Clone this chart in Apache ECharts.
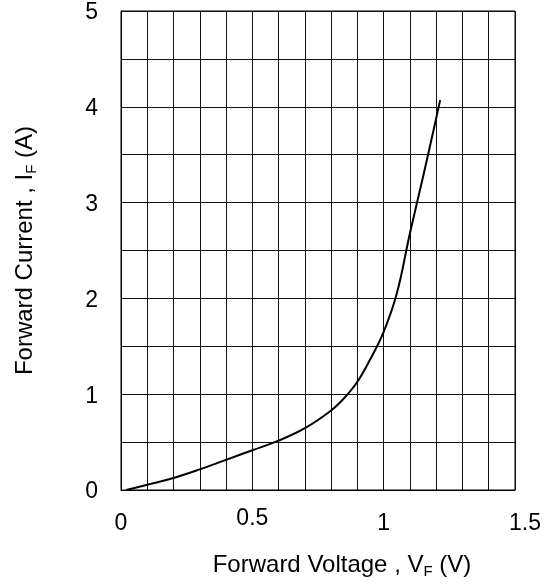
<!DOCTYPE html>
<html>
<head>
<meta charset="utf-8">
<script src="https://cdn.jsdelivr.net/npm/echarts@6/dist/echarts.min.js"></script>
<style>
html,body{margin:0;padding:0;background:#fff;}
#chart{width:551px;height:584px;}
</style>
</head>
<body>
<div id="chart"></div>
<script>
// Forward voltage (V) and forward current (A)
const voltage = [0.02, 0.1, 0.2, 0.3, 0.4, 0.5, 0.6, 0.7, 0.8, 0.85, 0.9, 0.95, 1.0, 1.05, 1.1, 1.15, 1.2, 1.215];
const current = [0, 0.055, 0.125, 0.215, 0.315, 0.415, 0.515, 0.645, 0.83, 0.96, 1.13, 1.37, 1.65, 2.05, 2.68, 3.27, 3.88, 4.07];
const xTickLabels = ['0', '0.5', '1', '1.5'];
const yTickLabels = ['0', '1', '2', '3', '4', '5'];

const FONT = 'Liberation Sans, Arial, sans-serif';
const TICK = 23;
const TITLE = 24;
const chart = echarts.init(document.getElementById('chart'), null, {renderer: 'canvas'});

const points = voltage.map((v, i) => [v, current[i]]);

chart.setOption({
  animation: false,
  backgroundColor: '#fff',
  grid: {left: 121, right: 36, top: 11, bottom: 90, show: true, borderColor: '#000', borderWidth: 1},
  xAxis: {
    type: 'value', min: 0, max: 1.5, interval: 0.1,
    axisLine: {show: true, lineStyle: {color: '#000', width: 1}},
    axisTick: {show: false},
    splitLine: {show: true, lineStyle: {color: '#111', width: 1}},
    axisLabel: {
      margin: 17, color: '#000', fontFamily: FONT, fontSize: TICK,
      formatter: function (v) {
        const s = String(Math.round(v * 10) / 10);
        if (xTickLabels.indexOf(s) < 0) return '';
        if (s === '0.5') return '{up|' + s + '}';
        if (s === '1.5') return '{rt|' + s + '}';
        return '{n|' + s + '}';
      },
      rich: {
        n: {fontFamily: FONT, fontSize: TICK, color: '#000', padding: [5, 0, 0, 0]},
        up: {fontFamily: FONT, fontSize: TICK, color: '#000'},
        rt: {fontFamily: FONT, fontSize: TICK, color: '#000', padding: [5, 0, 0, 20]}
      }
    },
    name: '{m|Forward Voltage , V}{s|F}{m| (V)}',
    nameLocation: 'middle', nameGap: 61,
    nameTextStyle: {
      padding: [0, 0, 0, 48],
      rich: {
        m: {fontFamily: FONT, fontSize: TITLE, color: '#000', lineHeight: 28, verticalAlign: 'middle'},
        s: {fontFamily: FONT, fontSize: 15, color: '#000', lineHeight: 15, verticalAlign: 'bottom'}
      }
    }
  },
  yAxis: {
    type: 'value', min: 0, max: 5, interval: 0.5,
    axisLine: {show: true, lineStyle: {color: '#000', width: 1}},
    axisTick: {show: false},
    splitLine: {show: true, lineStyle: {color: '#111', width: 1}},
    axisLabel: {
      margin: 23, color: '#000', fontFamily: FONT, fontSize: TICK,
      formatter: function (v) {
        const s = String(v);
        return yTickLabels.indexOf(s) >= 0 ? '{n|' + s + '}' : '';
      },
      rich: {
        n: {fontFamily: FONT, fontSize: TICK, color: '#000', padding: [4, 0, 0, 0]}
      }
    },
    name: '{m|Forward Current , I}{s|F}{m| (A)}',
    nameLocation: 'middle', nameGap: 82,
    nameTextStyle: {
      rich: {
        m: {fontFamily: FONT, fontSize: TITLE, color: '#000', lineHeight: 28, verticalAlign: 'middle'},
        s: {fontFamily: FONT, fontSize: 15, color: '#000', lineHeight: 15, verticalAlign: 'bottom'}
      }
    }
  },
  series: [{
    type: 'line',
    data: points,
    smooth: 0.4,
    showSymbol: false,
    lineStyle: {color: '#000', width: 2}
  }]
});
</script>
</body>
</html>
